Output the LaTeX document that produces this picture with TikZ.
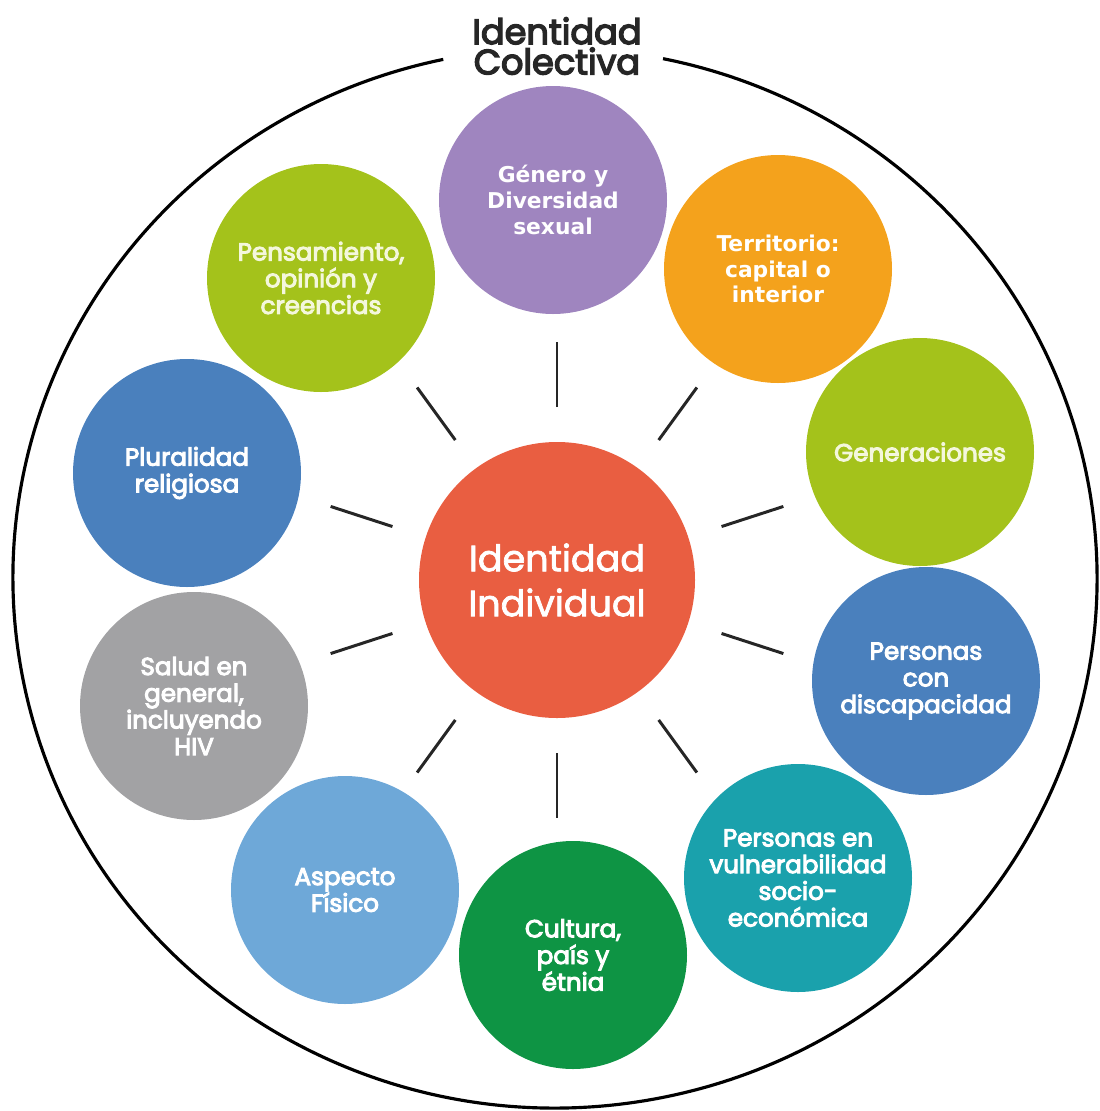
\documentclass[tikz,border=0pt]{standalone}
\usepackage{fontspec}
\setmainfont{Poppins}
\newfontfamily\semifont{Poppins}[FakeBold=4]
\newfontfamily\medfont{Poppins}[FakeBold=2]
\newfontfamily\verdfont{DejaVu Sans}
\definecolor{rojo}{HTML}{E95E41}
\definecolor{lila}{HTML}{9F85BF}
\definecolor{naranja}{HTML}{F4A21C}
\definecolor{lima}{HTML}{A4C21B}
\definecolor{crema}{HTML}{F4F7DC}
\definecolor{azul}{HTML}{4A80BD}
\definecolor{turquesa}{HTML}{1AA1AC}
\definecolor{verde}{HTML}{0E9444}
\definecolor{celeste}{HTML}{6EA8D8}
\definecolor{gris}{HTML}{A2A2A4}
\begin{document}
\begin{tikzpicture}[
    tema/.style={circle, minimum size=2.28cm, inner sep=0pt, text=white, align=center, font=\semifont\fontsize{7}{7.6}\selectfont},
    temaverd/.style={tema, font=\verdfont\fontsize{6.2}{7.3}\selectfont\bfseries},
    rayo/.style={line width=0.85pt, draw=black!85},
  ]
  \useasboundingbox (0,0) rectangle (10.99,-11.11);
  % Identidad colectiva
  \draw[line width=0.9pt] (5.55,-5.78) ++(101.9:5.42 and 5.30) arc[start angle=101.9, end angle=438.5, x radius=5.42, y radius=5.30];
  \node[align=center, text=black!85, font=\semifont\fontsize{10}{8.6}\selectfont] (titulo) at (5.57,-0.46) {Identidad\\Colectiva};
  % Identidad individual
  \node[circle, fill=rojo, minimum size=2.76cm, inner sep=0pt, text=white, align=center, font=\medfont\fontsize{10.4}{12.8}\selectfont] (ind) at (5.57,-5.80) {Identidad\\Individual};
  \foreach \a in {18,54,...,342}
    \draw[rayo] (ind.center) ++(\a:1.73) -- ++(\a:0.65);
  % Temas
  \node[temaverd, fill=lila] (gen) at (5.53,-2.00) {Género y\\Diversidad\\sexual};
  \node[temaverd, fill=naranja] (ter) at (7.78,-2.69) {Territorio:\\capital o\\interior};
  \node[tema, fill=lima, text=crema] (gnr) at (9.20,-4.52) {Generaciones};
  \node[tema, fill=azul] (dis) at (9.26,-6.81) {Personas\\con\\discapacidad};
  \node[tema, fill=turquesa] (vul) at (7.98,-8.78) {Personas en\\vulnerabilidad\\socio-\\económica};
  \node[tema, fill=verde] (cul) at (5.73,-9.55) {Cultura,\\país y\\étnia};
  \node[tema, fill=celeste] (asp) at (3.45,-8.90) {Aspecto\\Físico};
  \node[tema, fill=gris] (sal) at (1.94,-7.06) {Salud en\\general,\\incluyendo\\HIV};
  \node[tema, fill=azul] (plu) at (1.87,-4.73) {Pluralidad\\religiosa};
  \node[tema, fill=lima, text=crema] (pen) at (3.21,-2.78) {Pensamiento,\\opinión y\\creencias};
\end{tikzpicture}
\end{document}
